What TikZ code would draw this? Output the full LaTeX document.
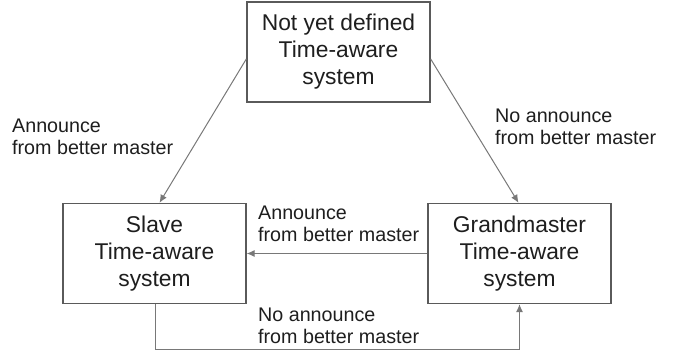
\documentclass[tikz,border=0pt]{standalone}
\usepackage{fontspec}
\setmainfont{Liberation Sans}
\usetikzlibrary{arrows.meta}
\definecolor{boxline}{RGB}{90,90,90}
\definecolor{arrline}{RGB}{120,120,120}
\definecolor{txt}{RGB}{30,30,30}

\begin{document}
\begin{tikzpicture}[x=1pt, y=1pt,
  statebox/.style={draw=boxline, line width=1.4pt, fill=white, minimum width=183, minimum height=100, align=center, text=txt, font=\fontsize{22.8}{27}\selectfont},
  edgelbl/.style={anchor=west, align=left, inner sep=0pt, text=txt, font=\fontsize{19.7}{22}\selectfont},
  trans/.style={draw=arrline, line width=1pt, -{Latex[length=8pt, width=7pt]}}]
\useasboundingbox (0, 0) rectangle (681, 356);
% states
\node[statebox] (undef) at (338.5, 304) {Not yet defined\\Time-aware\\system};
\node[statebox] (slave) at (154.5, 102.5) {Slave\\Time-aware\\system};
\node[statebox] (gm) at (519.5, 102.5) {Grandmaster\\Time-aware\\system};
% transitions
\draw[trans] ([yshift=-7pt]undef.west) -- ([xshift=5pt]slave.north);
\draw[trans] ([yshift=-7pt]undef.east) -- ([xshift=-1pt]gm.north);
\draw[trans] (gm.west) -- (slave.east);
\draw[trans] ([xshift=1pt]slave.south) -- ++(0, -45) -| (gm.south);
% labels
\node[edgelbl] (lblannounce) at (12, 219) {Announce\\from better master};
\node[edgelbl] (lblnoannounce) at (495, 229) {No announce\\from better master};
\node[edgelbl] (lblmid) at (258, 132) {Announce\\from better master};
\node[edgelbl] (lblbottom) at (258, 30) {No announce\\from better master};
\end{tikzpicture}
\end{document}
